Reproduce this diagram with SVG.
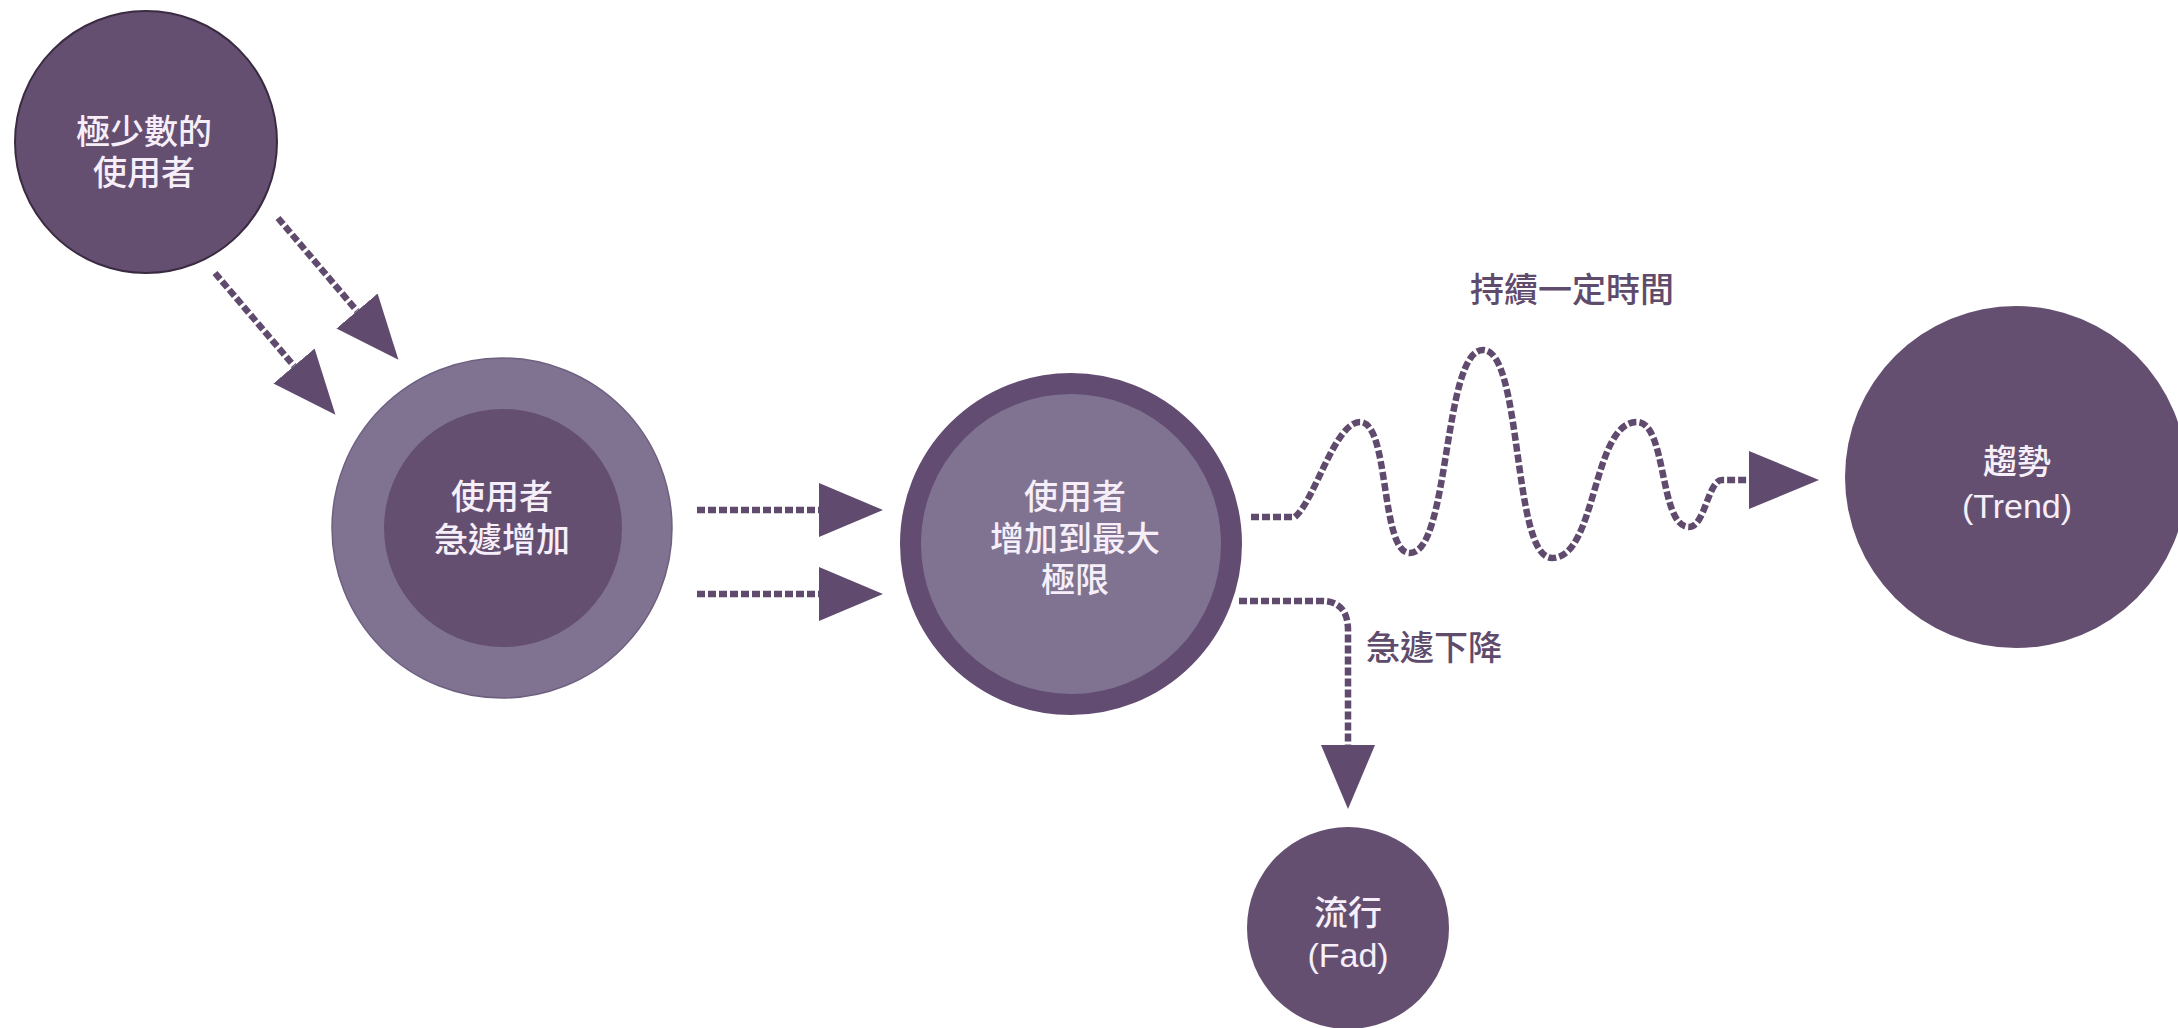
<svg xmlns="http://www.w3.org/2000/svg" width="2178" height="1028" viewBox="0 0 2178 1028">
  <defs>
    <style>
      .dark { fill: #644f71; }
      .light { fill: #807391; }
      .ntext { fill: #f6eef8; font-family: "Liberation Sans", "Noto Sans CJK TC", sans-serif; font-size: 34px; font-weight: 500; text-anchor: middle; }
      .label { fill: #5f4b6c; font-family: "Noto Sans CJK TC", "Noto Sans", sans-serif; font-size: 34px; font-weight: 500; }
      .conn { fill: none; stroke: #604b6e; stroke-width: 6.5; stroke-dasharray: 8 3; }
    </style>
    <marker id="head" viewBox="0 0 64 54" refX="0" refY="27" markerWidth="64" markerHeight="54" markerUnits="userSpaceOnUse" orient="auto">
      <path d="M0,0 L64,27 L0,54 Z" fill="#604b6e"/>
    </marker>
    <marker id="headBig" viewBox="0 0 70 58" refX="0" refY="29" markerWidth="70" markerHeight="58" markerUnits="userSpaceOnUse" orient="auto">
      <path d="M0,0 L70,29 L0,58 Z" fill="#604b6e"/>
    </marker>
  </defs>
  <rect width="2178" height="1028" fill="#ffffff"/>

  <g id="connectors">
    <path class="conn" d="M278,218 L357,311" marker-end="url(#head)"/>
    <path class="conn" d="M215,273 L294,366" marker-end="url(#head)"/>
    <path class="conn" d="M697,510 L819,510" marker-end="url(#head)"/>
    <path class="conn" d="M697,594 L819,594" marker-end="url(#head)"/>
    <path class="conn" d="M1251,517 L1295,517 C1315,500 1335,422 1360,422 C1390,422 1380,553 1410,553 C1450,553 1443,350 1483,350 C1523,350 1512,558 1552,558 C1597,558 1592,422 1637,422 C1667,422 1659,527 1689,527 C1705,527 1708,480 1722,480 L1749,480" marker-end="url(#headBig)"/>
    <path class="conn" d="M1239,601 L1322,601 C1340,601 1348,612 1348,630 L1348,745" marker-end="url(#head)"/>
  </g>

  <g id="node-few-users">
    <circle class="dark" cx="146" cy="142" r="131" stroke="#3a2b42" stroke-width="2"/>
    <text class="ntext"><tspan x="144" y="144">極少數的</tspan><tspan x="144" y="185">使用者</tspan></text>
  </g>

  <g id="node-rapid-increase">
    <circle class="light" cx="502" cy="528" r="170" stroke="#6e6080" stroke-width="1.5"/>
    <circle class="dark" cx="503" cy="528" r="119"/>
    <text class="ntext"><tspan x="502" y="509">使用者</tspan><tspan x="502" y="552">急遽增加</tspan></text>
  </g>

  <g id="node-max">
    <circle class="light" cx="1071" cy="544" r="160.5" stroke="#624c72" stroke-width="21"/>
    <text class="ntext"><tspan x="1075" y="509">使用者</tspan><tspan x="1075" y="551">增加到最大</tspan><tspan x="1075" y="592">極限</tspan></text>
  </g>

  <g id="node-trend">
    <circle class="dark" cx="2016" cy="477" r="171"/>
    <text class="ntext"><tspan x="2017" y="474">趨勢</tspan><tspan x="2017" y="518">(Trend)</tspan></text>
  </g>

  <g id="node-fad">
    <circle class="dark" cx="1348" cy="928" r="101"/>
    <text class="ntext"><tspan x="1348" y="925">流行</tspan><tspan x="1348" y="967">(Fad)</tspan></text>
  </g>

  <g id="labels">
    <text class="label" x="1572" y="302" text-anchor="middle">持續一定時間</text>
    <text class="label" x="1366" y="660">急遽下降</text>
  </g>
</svg>
